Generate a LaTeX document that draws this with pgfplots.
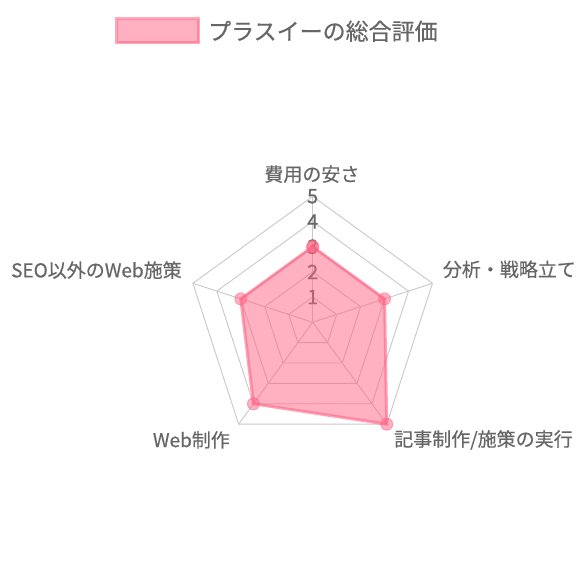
\documentclass[border=0pt]{standalone}
\usepackage{pgfplots}
\pgfplotsset{compat=1.18}
\usepackage{fontspec}
\setmainfont{Noto Sans CJK JP}[FakeBold=0.5]
\definecolor{lblgray}{HTML}{666666}
\definecolor{gridgray}{HTML}{C8C8C8}
\definecolor{pinkfill}{RGB}{255,99,132}

\begin{document}
\begin{tikzpicture}
\begin{axis}[
    x=25.2pt, y=25.2pt,
    xmin=-12.41, xmax=10.61,
    ymin=-10.23, ymax=12.79,
    hide axis,
    clip=false,
    data cs=polar,
    legend style={at={(axis cs:-1.40,11.56)}, anchor=center, draw=none, fill=none,
        font=\fontsize{23}{26}\selectfont\color{lblgray},
        legend cell align=left, column sep=6pt},
    legend image code/.code={
        \draw[fill=pinkfill, fill opacity=0.5, draw=pinkfill, draw opacity=0.55, line width=3pt]
            (0pt,-12pt) rectangle (82pt,12pt);
    },
]
\path (rel axis cs:0,0) rectangle (rel axis cs:1,1);
% angles: 90 (top), then clockwise by 72 degrees
\pgfplotsset{every axis plot/.append style={forget plot}}
\addplot[gridgray, line width=0.9pt] coordinates {(90,1)(18,1)(-54,1)(-126,1)(162,1)(90,1)};
\addplot[gridgray, line width=0.9pt] coordinates {(90,2)(18,2)(-54,2)(-126,2)(162,2)(90,2)};
\addplot[gridgray, line width=0.9pt] coordinates {(90,3)(18,3)(-54,3)(-126,3)(162,3)(90,3)};
\addplot[gridgray, line width=0.9pt] coordinates {(90,4)(18,4)(-54,4)(-126,4)(162,4)(90,4)};
\addplot[gridgray, line width=0.9pt] coordinates {(90,5)(18,5)(-54,5)(-126,5)(162,5)(90,5)};
\addplot[gridgray, line width=0.9pt] coordinates {(90,0)(90,5)};
\addplot[gridgray, line width=0.9pt] coordinates {(18,0)(18,5)};
\addplot[gridgray, line width=0.9pt] coordinates {(-54,0)(-54,5)};
\addplot[gridgray, line width=0.9pt] coordinates {(-126,0)(-126,5)};
\addplot[gridgray, line width=0.9pt] coordinates {(162,0)(162,5)};

\begin{scope}[every node/.style={font=\fontsize{20}{20}\selectfont, text=lblgray}]
\node at (axis cs:0,1) {1};
\node at (axis cs:0,2) {2};
\node at (axis cs:0,3) {3};
\node at (axis cs:0,4) {4};
\node at (axis cs:0,5) {5};
\end{scope}

\pgfplotsset{every axis plot/.append style={forget plot=false}}
\addplot[draw=pinkfill, draw opacity=0.6, line width=3pt,
    fill=pinkfill, fill opacity=0.5,
    mark=*, mark size=6pt,
    mark options={fill=pinkfill, fill opacity=0.5, draw opacity=0.5, line width=1pt}]
coordinates {(90,3)(18,3)(-54,5)(-126,4)(162,3)(90,3)};
\addlegendentry{プラスイーの総合評価}

\begin{scope}[every node/.style={font=\fontsize{19}{19}\selectfont, text=lblgray, inner sep=0pt}]
\node[anchor=center] at (axis cs:-0.03,5.88) {費用の安さ};
\node[anchor=west] at (axis cs:5.16,2.10) {分析・戦略立て};
\node[anchor=west] at (axis cs:3.23,-4.67) {記事制作/施策の実行};
\node[anchor=east] at (axis cs:-3.28,-4.67) {Web制作};
\node[anchor=east] at (axis cs:-5.19,2.07) {SEO以外のWeb施策};
\end{scope}
\end{axis}
\end{tikzpicture}
\end{document}
